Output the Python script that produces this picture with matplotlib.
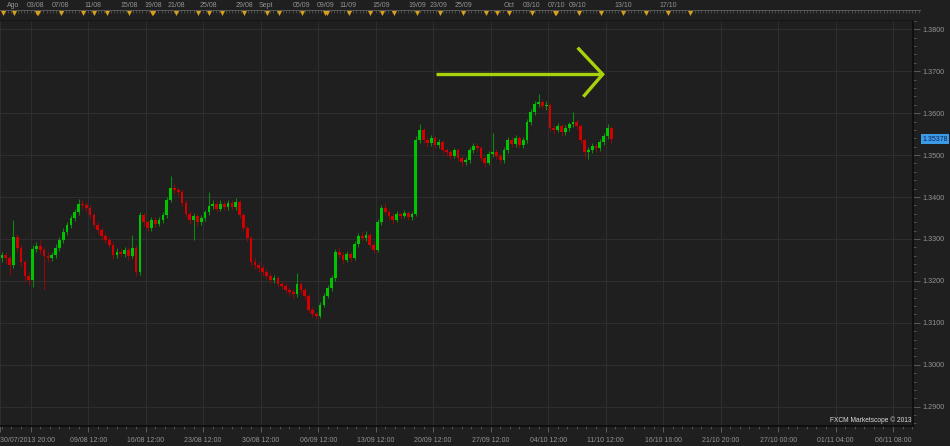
import numpy as np
import matplotlib
matplotlib.use('Agg')
import matplotlib.pyplot as plt
from matplotlib.ticker import FixedLocator, MultipleLocator, FuncFormatter

# EUR/USD style 8h candles, 30/07/2013 .. 11/10/2013
opens = [1.3255, 1.3262, 1.3255, 1.3238, 1.3305, 1.3279, 1.3245, 1.3212, 1.3202, 1.3276,
         1.3284, 1.3274, 1.3260, 1.3255, 1.3262, 1.3279, 1.3298, 1.3317, 1.3333, 1.3350,
         1.3364, 1.3384, 1.3381, 1.3374, 1.3357, 1.3333, 1.3321, 1.3307, 1.3298, 1.3286,
         1.3262, 1.3269, 1.3264, 1.3274, 1.3260, 1.3279, 1.3221, 1.3357, 1.3340, 1.3326,
         1.3345, 1.3336, 1.3345, 1.3357, 1.3393, 1.3422, 1.3417, 1.3412, 1.3386, 1.3360,
         1.3345, 1.3355, 1.3340, 1.3350, 1.3364, 1.3379, 1.3384, 1.3371, 1.3384, 1.3376,
         1.3386, 1.3376, 1.3388, 1.3357, 1.3326, 1.3302, 1.3245, 1.3238, 1.3231, 1.3221,
         1.3212, 1.3202, 1.3207, 1.3193, 1.3188, 1.3178, 1.3173, 1.3168, 1.3193, 1.3178,
         1.3164, 1.3131, 1.3121, 1.3117, 1.3143, 1.3164, 1.3183, 1.3207, 1.3269, 1.3262,
         1.3250, 1.3264, 1.3255, 1.3288, 1.3307, 1.3302, 1.3310, 1.3286, 1.3274, 1.3340,
         1.3374, 1.3364, 1.3355, 1.3345, 1.3360, 1.3355, 1.3362, 1.3352, 1.3360, 1.3536,
         1.3560, 1.3536, 1.3529, 1.3541, 1.3524, 1.3531, 1.3512, 1.3507, 1.3498, 1.3512,
         1.3493, 1.3484, 1.3488, 1.3512, 1.3522, 1.3517, 1.3493, 1.3481, 1.3503, 1.3507,
         1.3498, 1.3488, 1.3512, 1.3536, 1.3527, 1.3541, 1.3524, 1.3536, 1.3579, 1.3603,
         1.3622, 1.3627, 1.3617, 1.3620, 1.3565, 1.3560, 1.3569, 1.3555, 1.3565, 1.3574,
         1.3579, 1.3569, 1.3536, 1.3507, 1.3512, 1.3522, 1.3517, 1.3531, 1.3545, 1.3565]

closes = [1.3262, 1.3255, 1.3238, 1.3305, 1.3279, 1.3245, 1.3212, 1.3202, 1.3276, 1.3284,
          1.3274, 1.3260, 1.3255, 1.3262, 1.3279, 1.3298, 1.3317, 1.3333, 1.3350, 1.3364,
          1.3384, 1.3381, 1.3374, 1.3357, 1.3333, 1.3321, 1.3307, 1.3298, 1.3286, 1.3262,
          1.3269, 1.3264, 1.3274, 1.3260, 1.3279, 1.3221, 1.3357, 1.3340, 1.3326, 1.3345,
          1.3336, 1.3345, 1.3357, 1.3393, 1.3422, 1.3417, 1.3412, 1.3386, 1.3360, 1.3345,
          1.3355, 1.3340, 1.3350, 1.3364, 1.3379, 1.3384, 1.3371, 1.3384, 1.3376, 1.3386,
          1.3376, 1.3388, 1.3357, 1.3326, 1.3302, 1.3245, 1.3238, 1.3231, 1.3221, 1.3212,
          1.3202, 1.3207, 1.3193, 1.3188, 1.3178, 1.3173, 1.3168, 1.3193, 1.3178, 1.3164,
          1.3131, 1.3121, 1.3117, 1.3143, 1.3164, 1.3183, 1.3207, 1.3269, 1.3262, 1.3250,
          1.3264, 1.3255, 1.3288, 1.3307, 1.3302, 1.3310, 1.3286, 1.3274, 1.3340, 1.3374,
          1.3364, 1.3355, 1.3345, 1.3360, 1.3355, 1.3362, 1.3352, 1.3360, 1.3536, 1.3560,
          1.3536, 1.3529, 1.3541, 1.3524, 1.3531, 1.3512, 1.3507, 1.3498, 1.3512, 1.3493,
          1.3484, 1.3488, 1.3512, 1.3522, 1.3517, 1.3493, 1.3481, 1.3503, 1.3507, 1.3498,
          1.3488, 1.3512, 1.3536, 1.3527, 1.3541, 1.3524, 1.3536, 1.3579, 1.3603, 1.3622,
          1.3627, 1.3617, 1.3620, 1.3565, 1.3560, 1.3569, 1.3555, 1.3565, 1.3574, 1.3579,
          1.3569, 1.3536, 1.3507, 1.3512, 1.3522, 1.3517, 1.3531, 1.3545, 1.3565, 1.3538]

highs = [1.3270, 1.3268, 1.3262, 1.3345, 1.3312, 1.3285, 1.3250, 1.3220, 1.3285, 1.3292,
         1.3298, 1.3280, 1.3268, 1.3270, 1.3288, 1.3305, 1.3325, 1.3340, 1.3358, 1.3372,
         1.3395, 1.3392, 1.3388, 1.3380, 1.3362, 1.3340, 1.3328, 1.3315, 1.3305, 1.3292,
         1.3278, 1.3275, 1.3282, 1.3280, 1.3310, 1.3285, 1.3365, 1.3362, 1.3346, 1.3352,
         1.3352, 1.3352, 1.3365, 1.3400, 1.3450, 1.3430, 1.3425, 1.3418, 1.3392, 1.3366,
         1.3362, 1.3360, 1.3358, 1.3370, 1.3412, 1.3392, 1.3390, 1.3392, 1.3390, 1.3393,
         1.3392, 1.3398, 1.3392, 1.3362, 1.3332, 1.3308, 1.3255, 1.3246, 1.3238, 1.3228,
         1.3218, 1.3215, 1.3212, 1.3200, 1.3194, 1.3185, 1.3180, 1.3219, 1.3198, 1.3185,
         1.3168, 1.3138, 1.3126, 1.3150, 1.3170, 1.3190, 1.3214, 1.3276, 1.3280, 1.3268,
         1.3272, 1.3270, 1.3295, 1.3315, 1.3316, 1.3318, 1.3315, 1.3292, 1.3348, 1.3382,
         1.3385, 1.3370, 1.3362, 1.3366, 1.3365, 1.3368, 1.3366, 1.3365, 1.3545, 1.3574,
         1.3565, 1.3542, 1.3548, 1.3546, 1.3538, 1.3536, 1.3518, 1.3512, 1.3518, 1.3516,
         1.3498, 1.3495, 1.3520, 1.3530, 1.3528, 1.3522, 1.3498, 1.3510, 1.3553, 1.3514,
         1.3505, 1.3520, 1.3544, 1.3542, 1.3548, 1.3546, 1.3542, 1.3586, 1.3610, 1.3630,
         1.3645, 1.3632, 1.3628, 1.3624, 1.3572, 1.3576, 1.3575, 1.3572, 1.3580, 1.3603,
         1.3585, 1.3574, 1.3540, 1.3520, 1.3528, 1.3528, 1.3538, 1.3552, 1.3575, 1.3570]

lows = [1.3245, 1.3240, 1.3215, 1.3230, 1.3270, 1.3235, 1.3200, 1.3190, 1.3185, 1.3268,
        1.3265, 1.3178, 1.3245, 1.3248, 1.3255, 1.3272, 1.3290, 1.3310, 1.3325, 1.3342,
        1.3358, 1.3372, 1.3366, 1.3350, 1.3325, 1.3312, 1.3298, 1.3290, 1.3278, 1.3252,
        1.3255, 1.3256, 1.3258, 1.3250, 1.3255, 1.3212, 1.3215, 1.3332, 1.3318, 1.3320,
        1.3328, 1.3330, 1.3338, 1.3350, 1.3388, 1.3408, 1.3402, 1.3378, 1.3352, 1.3336,
        1.3298, 1.3332, 1.3334, 1.3344, 1.3358, 1.3372, 1.3364, 1.3366, 1.3368, 1.3370,
        1.3368, 1.3370, 1.3350, 1.3318, 1.3294, 1.3236, 1.3228, 1.3222, 1.3212, 1.3204,
        1.3194, 1.3196, 1.3185, 1.3180, 1.3170, 1.3165, 1.3160, 1.3162, 1.3170, 1.3156,
        1.3124, 1.3114, 1.3110, 1.3112, 1.3138, 1.3158, 1.3176, 1.3200, 1.3254, 1.3240,
        1.3244, 1.3246, 1.3250, 1.3282, 1.3294, 1.3295, 1.3278, 1.3266, 1.3268, 1.3334,
        1.3356, 1.3346, 1.3336, 1.3340, 1.3348, 1.3350, 1.3345, 1.3346, 1.3355, 1.3530,
        1.3528, 1.3520, 1.3522, 1.3516, 1.3518, 1.3505, 1.3498, 1.3490, 1.3492, 1.3485,
        1.3474, 1.3476, 1.3482, 1.3506, 1.3510, 1.3486, 1.3472, 1.3476, 1.3496, 1.3490,
        1.3480, 1.3482, 1.3506, 1.3520, 1.3520, 1.3518, 1.3518, 1.3530, 1.3572, 1.3596,
        1.3614, 1.3610, 1.3608, 1.3558, 1.3550, 1.3554, 1.3546, 1.3548, 1.3558, 1.3568,
        1.3562, 1.3528, 1.3495, 1.3490, 1.3504, 1.3508, 1.3510, 1.3524, 1.3538, 1.3530]

last_price = 1.35378

bottom_labels = ['30/07/2013 20:00', '', '09/08 12:00', '16/08 12:00', '23/08 12:00',
                 '30/08 12:00', '06/09 12:00', '13/09 12:00', '20/09 12:00', '27/09 12:00',
                 '04/10 12:00', '11/10 12:00', '16/10 16:00', '21/10 20:00', '27/10 00:00',
                 '01/11 04:00', '06/11 08:00']

# calendar strip at the top (positions in candle units)
event_labels = ['Ago', '03/08', '07/08', '11/08', '15/08', '19/08', '21/08', '25/08',
                '29/08', 'Sept', '05/09', '09/09', '11/09', '15/09', '19/09', '23/09',
                '25/09', 'Oct', '03/10', '07/10', '09/10', '13/10', '17/10']
event_label_pos = [2.9, 8.9, 15.2, 23.8, 33.2, 39.4, 45.4, 53.8, 63.2, 68.9, 78.3, 84.5,
                   90.3, 98.9, 108.3, 114.0, 120.3, 132.3, 138.3, 144.6, 150.3, 162.0, 173.8]
event_marks = [0.4, 3.2, 9.1, 9.3, 15.3, 21.1, 24.0, 27.3, 33.2, 39.1, 39.5, 45.4, 51.1,
               54.0, 57.3, 63.2, 69.1, 72.4, 78.4, 84.3, 84.7, 90.5, 96.0, 99.1, 102.4,
               108.2, 114.3, 120.4, 126.2, 129.1, 132.4, 138.3, 144.3, 144.6, 150.5, 156.2,
               162.1, 168.0, 173.7, 179.5]

plt.rcParams['font.family'] = ['Liberation Sans', 'DejaVu Sans']
BG = '#1f1f1f'
TXT = '#939393'

fig = plt.figure(figsize=(9.5, 4.46), dpi=100, facecolor=BG)
ax = fig.add_axes([0, 20 / 446, 913 / 950, 406 / 446])
ax.set_facecolor(BG)

o = np.array(opens)
c = np.array(closes)
h = np.array(highs)
l = np.array(lows)
x = np.arange(len(c))
up = c >= o

ax.vlines(x[up], l[up], h[up], color='#0b8a0b', lw=0.8, zorder=3)
ax.vlines(x[~up], l[~up], h[~up], color='#8e0a0a', lw=0.8, zorder=3)
body_bottom = np.minimum(o, c)
body_h = np.maximum(np.abs(c - o), 0.00008)
ax.bar(x[up], body_h[up], bottom=body_bottom[up], width=0.72, color='#00c400', lw=0, zorder=4)
ax.bar(x[~up], body_h[~up], bottom=body_bottom[~up], width=0.72, color='#d20000', lw=0, zorder=4)

ax.set_xlim(-0.5, 237.7)
ax.set_ylim(1.28539, 1.38222)

# x axis: weekly grid, daily minor ticks
xt = np.concatenate([[-0.5], np.arange(7.5, 238, 15)])
ax.xaxis.set_major_locator(FixedLocator(xt))
ax.set_xticklabels(bottom_labels)
ax.get_xticklabels()[0].set_ha('left')
ax.xaxis.set_minor_locator(MultipleLocator(2.5, offset=0))
ax.tick_params(axis='x', which='major', colors='#5a5a5a', labelcolor=TXT, labelsize=5,
               length=4.5, width=0.7, pad=3.5)
ax.tick_params(axis='x', which='minor', colors='#5a5a5a', length=2.2, width=0.6)

# y axis on the right
ax.yaxis.tick_right()
ax.yaxis.set_major_locator(MultipleLocator(0.01))
ax.yaxis.set_minor_locator(MultipleLocator(0.002))
ax.yaxis.set_major_formatter(FuncFormatter(lambda v, p: f'{v:.4f}'))
ax.tick_params(axis='y', which='major', colors='#5a5a5a', labelcolor=TXT, labelsize=5.2,
               length=5, width=0.7, pad=2)
ax.tick_params(axis='y', which='minor', colors='#5a5a5a', length=2.5, width=0.6)

ax.grid(True, which='major', color='#2e2e2e', lw=0.8, zorder=0)
ax.set_axisbelow(True)
ax.spines['left'].set_visible(False)
ax.spines['top'].set_color('#151515')
for s in ('right', 'bottom'):
    ax.spines[s].set_color('#0c0c0c')
    ax.spines[s].set_linewidth(1.2)

# last price tag
ax.annotate(f'{last_price:.5f}', xy=(1.0, last_price), xycoords=ax.get_yaxis_transform(),
            xytext=(6.5, 0), textcoords='offset points', ha='left', va='center',
            fontsize=5.0, color='#0b1f5c', annotation_clip=False,
            bbox=dict(boxstyle='square,pad=0.2', fc='#3c9be6', ec='none'))

# hand-drawn arrow
arrow_color = '#a8d20c'
ax.plot([0.4775, 0.6601], [0.8662, 0.8662], transform=ax.transAxes,
        color=arrow_color, lw=2.4, solid_capstyle='butt', zorder=6)
ax.plot([0.6327, 0.6601, 0.6389], [0.9318, 0.8662, 0.8111], transform=ax.transAxes,
        color=arrow_color, lw=2.4, solid_capstyle='butt', solid_joinstyle='miter', zorder=6)

ax.text(0.998, 0.004, 'FXCM Marketscope \u00a9 2013', transform=ax.transAxes,
        ha='right', va='bottom', color='#dcdcdc', fontsize=4.8, zorder=7)

# top calendar strip
at = fig.add_axes([0, 426 / 446, 920 / 950, 20 / 446])
at.set_facecolor(BG)
at.set_xlim(-0.5, -0.5 + 920 / 3.833)
at.set_ylim(20, 0)
for s in ('left', 'right', 'bottom'):
    at.spines[s].set_visible(False)
at.spines['top'].set_position(('data', 10))
at.spines['top'].set_color('#5a5a5a')
at.spines['top'].set_linewidth(0.7)
at.xaxis.tick_top()
at.xaxis.set_major_locator(FixedLocator(event_label_pos))
at.set_xticklabels(event_labels)
at.xaxis.set_minor_locator(MultipleLocator(2.5 / 3))
at.tick_params(axis='x', which='major', direction='in', colors='#5a5a5a', labelcolor=TXT,
               labelsize=5, length=3, width=0.6, pad=1.0)
at.tick_params(axis='x', which='minor', direction='in', colors='#5a5a5a', length=2, width=0.5)
at.set_yticks([])
at.scatter(event_marks, [12.6] * len(event_marks), marker='v', s=13, color='#d9a01c',
           lw=0, zorder=5, clip_on=False)

fig.savefig('out.png', dpi=100, facecolor=BG)
